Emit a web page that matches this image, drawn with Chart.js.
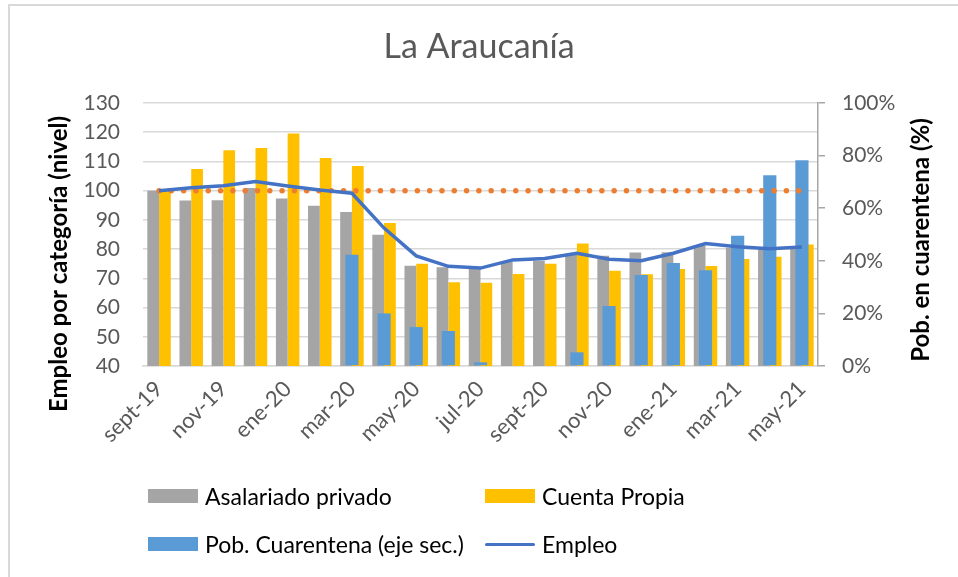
<!DOCTYPE html>
<html lang="es">
<head>
    <meta charset="UTF-8">
    <title>La Araucanía</title>
    <script src="https://cdn.jsdelivr.net/npm/chart.js"></script>
    <style>
        body {
            margin: 0;
            background: #fff;
            font-family: Lato, sans-serif;
        }

        /* marco del gráfico (solo se ven borde izquierdo y superior) */
        #marco {
            position: absolute;
            left: 8px;
            top: 4px;
            width: 960px;
            height: 580px;
            border-left: 2px solid #d9d9d9;
            border-top: 2px solid #d9d9d9;
        }

        #contenedor {
            position: absolute;
            left: 0;
            top: 0;
            width: 958px;
            height: 577px;
        }

        #leyenda {
            position: absolute;
            left: 148px;
            top: 472px;
            display: grid;
            grid-template-columns: 337px 260px;
            grid-auto-rows: 48px;
        }

        .item {
            display: flex;
            align-items: center;
            font-size: 23px;
            color: #000;
        }

        .caja {
            display: inline-block;
            width: 50px;
            height: 14px;
            margin-right: 7px;
        }

        .linea {
            display: inline-block;
            width: 50px;
            height: 3px;
            border-radius: 2px;
            margin-right: 7px;
        }
    </style>
</head>
<body>

<div id="marco"></div>
<div id="contenedor">
    <canvas id="grafico"></canvas>
</div>
<div id="leyenda"></div>

<script>
    // Meses (eje X)
    const meses = ['sept-19', 'oct-19', 'nov-19', 'dic-19', 'ene-20', 'feb-20', 'mar-20', 'abr-20', 'may-20',
        'jun-20', 'jul-20', 'ago-20', 'sept-20', 'oct-20', 'nov-20', 'dic-20', 'ene-21', 'feb-21', 'mar-21',
        'abr-21', 'may-21'];

    // Empleo por categoría (índice, base sept-19 = 100)
    const asalariado = [100, 96.6, 96.7, 100.9, 97.3, 94.8, 92.7, 84.9, 74.3, 73.8, 73.2, 75.7, 76.0, 78.0,
        77.7, 78.8, 78.9, 81.3, 80.5, 80.0, 80.5];
    const cuentaPropia = [100, 107.4, 113.8, 114.6, 119.6, 111.2, 108.4, 88.9, 75.0, 68.7, 68.5, 71.5, 75.0,
        81.9, 72.6, 71.4, 73.2, 74.2, 76.6, 77.4, 81.6];
    const empleo = [100, 101.0, 101.7, 103.1, 101.6, 100.2, 99.1, 87.2, 77.7, 74.1, 73.5, 76.3, 76.8, 78.6,
        76.5, 76.0, 78.6, 81.9, 80.8, 80.1, 80.7];
    const referencia = [100, 100, 100, 100, 100, 100, 100, 100, 100, 100, 100, 100, 100, 100, 100, 100, 100,
        100, 100, 100, 100];

    // Población en cuarentena (fracción, eje secundario)
    const cuarentena = [0, 0, 0, 0, 0, 0, 0.423, 0.20, 0.148, 0.133, 0.014, 0, 0, 0.052, 0.228, 0.346, 0.392,
        0.364, 0.495, 0.725, 0.782];

    const titulo = 'La Araucanía';
    const tituloIzq = 'Empleo por categoría (nivel)';
    const tituloDer = 'Pob. en cuarentena (%)';

    Chart.defaults.font.family = 'Lato, sans-serif';

    // Títulos de ejes, ambos leídos de abajo hacia arriba (como en Excel)
    const titulosEjes = {
        id: 'titulosEjes',
        afterDraw(chart) {
            const c = chart.ctx;
            const area = chart.chartArea;
            c.save();
            c.font = 'bold 24px Lato, sans-serif';
            c.fillStyle = '#000';
            c.textAlign = 'center';
            c.textBaseline = 'middle';
            [[tituloIzq, area.left - 84, area.top + 161], [tituloDer, area.right + 103, area.top + 137]].forEach(t => {
                c.save();
                c.translate(t[1], t[2]);
                c.rotate(-Math.PI / 2);
                c.fillText(t[0], 0, 0);
                c.restore();
            });
            c.restore();
        }
    };

    const gris = '#595959';

    const grafico = new Chart(document.getElementById('grafico'), {
        data: {
            labels: meses,
            datasets: [
                {
                    type: 'line', label: 'Empleo', data: empleo, yAxisID: 'y',
                    borderColor: '#4472C4', backgroundColor: '#4472C4', borderWidth: 3.5,
                    pointRadius: 0, tension: 0, order: 0, enLeyenda: true
                },
                {
                    type: 'line', label: 'Referencia', data: referencia, yAxisID: 'y',
                    borderColor: '#ED7D31', borderWidth: 5.5, borderDash: [0, 12.3], borderCapStyle: 'round',
                    pointRadius: 0, order: 0, enLeyenda: false
                },
                {
                    type: 'bar', label: 'Pob. Cuarentena (eje sec.)', data: cuarentena, yAxisID: 'y1',
                    backgroundColor: '#5B9BD5', grouped: false, categoryPercentage: 1, barPercentage: 0.41,
                    order: 1, enLeyenda: true
                },
                {
                    type: 'bar', label: 'Asalariado privado', data: asalariado, yAxisID: 'y',
                    backgroundColor: '#A5A5A5', categoryPercentage: 0.73, barPercentage: 1,
                    order: 2, enLeyenda: true
                },
                {
                    type: 'bar', label: 'Cuenta Propia', data: cuentaPropia, yAxisID: 'y',
                    backgroundColor: '#FFC000', categoryPercentage: 0.73, barPercentage: 1,
                    order: 2, enLeyenda: true
                }
            ]
        },
        options: {
            responsive: true,
            maintainAspectRatio: false,
            animation: false,
            layout: { padding: 0 },
            plugins: {
                legend: { display: false },
                tooltip: { enabled: false },
                title: {
                    display: true,
                    text: titulo,
                    color: gris,
                    font: { size: 34, weight: 'normal' },
                    padding: { top: 27, bottom: 35.2 }
                }
            },
            scales: {
                x: {
                    offset: true,
                    grid: { display: false, drawTicks: false },
                    border: { display: true, color: '#d9d9d9', width: 1.5 },
                    ticks: {
                        autoSkip: false,
                        minRotation: 45,
                        maxRotation: 45,
                        padding: 10,
                        color: gris,
                        font: { size: 22 },
                        callback: function (val, i) {
                            return i % 2 === 0 ? this.getLabelForValue(val) : '';
                        }
                    },
                    afterFit: s => { s.height = 211; }
                },
                y: {
                    position: 'left',
                    min: 40,
                    max: 130,
                    ticks: { stepSize: 10, padding: 23, color: gris, font: { size: 21 } },
                    grid: { color: '#d9d9d9', lineWidth: 1.5, drawTicks: false },
                    border: { display: false },
                    afterFit: s => { s.width = 143; }
                },
                y1: {
                    position: 'right',
                    min: 0,
                    max: 1,
                    ticks: {
                        stepSize: 0.2, padding: 17, color: gris, font: { size: 21 },
                        callback: v => Math.round(v * 100) + '%'
                    },
                    grid: { drawOnChartArea: false, drawTicks: true, tickLength: 7, color: '#a6a6a6', lineWidth: 1.5 },
                    border: { display: true, color: '#a6a6a6', width: 1.5 },
                    afterFit: s => { s.width = 140; }
                }
            }
        },
        plugins: [titulosEjes]
    });

    // Leyenda en dos columnas, armada desde los datasets
    const ordenLeyenda = ['Asalariado privado', 'Cuenta Propia', 'Pob. Cuarentena (eje sec.)', 'Empleo'];
    const leyenda = document.getElementById('leyenda');
    ordenLeyenda.forEach(nombre => {
        const ds = grafico.data.datasets.find(d => d.label === nombre && d.enLeyenda);
        if (!ds) return;
        const item = document.createElement('div');
        item.className = 'item';
        const marca = document.createElement('span');
        if (ds.type === 'line') {
            marca.className = 'linea';
            marca.style.background = ds.borderColor;
        } else {
            marca.className = 'caja';
            marca.style.background = ds.backgroundColor;
        }
        item.appendChild(marca);
        item.appendChild(document.createTextNode(ds.label));
        leyenda.appendChild(item);
    });
</script>

</body>
</html>
